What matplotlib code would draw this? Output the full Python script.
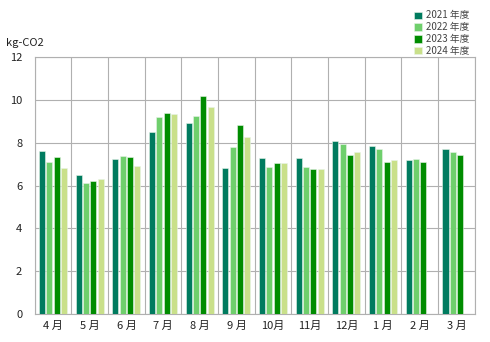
import numpy as np
import matplotlib
matplotlib.use("Agg")
import matplotlib.pyplot as plt

plt.rcParams['font.family'] = ['Noto Sans CJK JP', 'DejaVu Sans']

months = ["4 月", "5 月", "6 月", "7 月", "8 月", "9 月",
          "10月", "11月", "12月", "1 月", "2 月", "3 月"]
years = ["2021 年度", "2022 年度", "2023 年度", "2024 年度"]

v2021 = [7.60, 6.50, 7.26, 8.52, 8.94, 6.84, 7.27, 7.27, 8.08, 7.83, 7.21, 7.70]
v2022 = [7.12, 6.10, 7.38, 9.19, 9.25, 7.80, 6.88, 6.88, 7.93, 7.72, 7.26, 7.57]
v2023 = [7.34, 6.21, 7.35, 9.39, 10.17, 8.83, 7.07, 6.78, 7.43, 7.10, 7.10, 7.43]
v2024 = [6.84, 6.32, 6.90, 9.36, 9.67, 8.26, 7.06, 6.76, 7.57, 7.20, np.nan, np.nan]

colors = ["#007b5f", "#6fcf6c", "#008c00", "#c9e08a"]

fig = plt.figure(figsize=(4.9, 3.42), dpi=100)
ax = fig.add_axes([0.071, 0.082, 0.898, 0.751])

x = np.arange(len(months))
pitch = 0.2
width = 0.165
for i, (vals, c, lab) in enumerate(zip([v2021, v2022, v2023, v2024], colors, years)):
    ax.bar(x + (i - 1.5) * pitch, vals, width, color=c, label=lab,
           edgecolor="#e8f4e8", linewidth=0.4, zorder=3)

ax.set_xlim(-0.5, len(months) - 0.5)
ax.set_ylim(0, 12)
ax.set_yticks(range(0, 13, 2))
ax.set_xticks(x)
ax.set_xticklabels(months)
ax.set_xticks(np.arange(-0.5, len(months), 1), minor=True)
ax.grid(axis="y", color="#b0b0b0", linewidth=0.8, zorder=0)
ax.grid(axis="x", which="minor", color="#b0b0b0", linewidth=0.8, zorder=0)
ax.tick_params(which="both", length=0, labelsize=8, colors="#222222")
ax.tick_params(axis="x", pad=5)
ax.tick_params(axis="y", pad=9)
for s in ax.spines.values():
    s.set_color("#b0b0b0")
    s.set_linewidth(0.8)

fig.text(0.012, 0.865, "kg-CO2", fontsize=8, color="#222222")
fig.legend(loc="upper right", bbox_to_anchor=(0.975, 0.995), frameon=False,
           fontsize=7, handlelength=0.75, handleheight=0.75,
           handletextpad=0.4, labelspacing=0.2, labelcolor="#444444")

fig.savefig("out.png", dpi=100)
